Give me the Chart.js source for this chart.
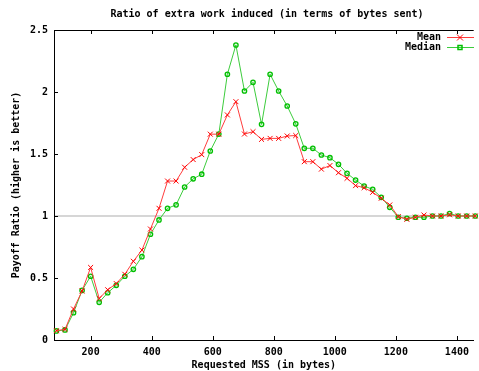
<!DOCTYPE html>
<html>
<head>
<meta charset="utf-8">
<script src="https://cdn.jsdelivr.net/npm/chart.js@4.4.1/dist/chart.umd.min.js"></script>
<style>
  html, body { margin: 0; padding: 0; background: #fff; }
  #caja { width: 479px; height: 371px; }
</style>
</head>
<body>
<div id="caja"><canvas id="ratio"></canvas></div>
<script>
// requested MSS (bytes)
const mss = [88, 116, 144, 172, 200, 228, 256, 284, 312, 340,
             368, 396, 424, 452, 480, 508, 536, 564, 592, 620,
             648, 676, 704, 732, 760, 788, 816, 844, 872, 900,
             928, 956, 984, 1012, 1040, 1068, 1096, 1124, 1152, 1180,
             1208, 1236, 1264, 1292, 1320, 1348, 1376, 1404, 1432, 1460];

const mean = [0.075, 0.086, 0.25, 0.395, 0.585, 0.335, 0.405, 0.455, 0.53, 0.635,
              0.725, 0.895, 1.062, 1.282, 1.282, 1.393, 1.455, 1.495, 1.66, 1.66,
              1.815, 1.922, 1.661, 1.68, 1.618, 1.626, 1.626, 1.645, 1.649, 1.438,
              1.438, 1.378, 1.407, 1.349, 1.304, 1.245, 1.228, 1.191, 1.143, 1.089,
              0.995, 0.973, 0.99, 1.008, 1.0, 1.0, 1.01, 1.0, 1.0, 1.0];

const median = [0.073, 0.081, 0.22, 0.40, 0.514, 0.304, 0.381, 0.441, 0.514, 0.57,
                0.672, 0.853, 0.968, 1.062, 1.09, 1.234, 1.30, 1.337, 1.524, 1.661,
                2.143, 2.379, 2.008, 2.078, 1.739, 2.143, 2.008, 1.887, 1.743, 1.546,
                1.546, 1.492, 1.47, 1.417, 1.344, 1.29, 1.242, 1.215, 1.151, 1.07,
                0.99, 0.982, 0.99, 0.99, 1.0, 1.0, 1.02, 1.0, 1.0, 1.0];

const xTicks = [200, 400, 600, 800, 1000, 1200, 1400];
const yTicks = [0, 0.5, 1, 1.5, 2, 2.5];

const titulo = 'Ratio of extra work induced (in terms of bytes sent)';
const rojo = '#ff0000';
const rojoLinea = '#ff3c3c';
const verde = '#00c000';
const verdeLinea = '#3ccc3c';
const fuente = { family: 'DejaVu Sans Mono', size: 10, weight: 'bold', lineHeight: 1.2 };

// titulo, tics hacia dentro, borde superior y leyenda al estilo gnuplot
const estiloGnuplot = {
    id: 'estiloGnuplot',
    afterDraw(chart) {
        const c = chart.ctx;
        const a = chart.chartArea;
        const sx = chart.scales.x;
        const sy = chart.scales.y;
        c.save();
        c.font = 'bold 10px "DejaVu Sans Mono"';
        c.fillStyle = '#000';
        c.textAlign = 'center';
        c.textBaseline = 'middle';
        c.fillText(titulo, (a.left + 480) / 2, 14);

        c.strokeStyle = '#000';
        c.lineWidth = 1;
        c.beginPath();
        c.moveTo(a.left, a.top + 0.5);
        c.lineTo(a.right, a.top + 0.5);
        xTicks.forEach(v => {
            const px = Math.round(sx.getPixelForValue(v)) + 0.5;
            c.moveTo(px, a.bottom);
            c.lineTo(px, a.bottom - 4);
            c.moveTo(px, a.top);
            c.lineTo(px, a.top + 4);
        });
        yTicks.forEach(v => {
            const py = Math.round(sy.getPixelForValue(v)) + 0.5;
            c.moveTo(a.left, py);
            c.lineTo(a.left + 4, py);
        });
        c.stroke();

        // leyenda
        c.textAlign = 'right';
        chart.data.datasets.forEach((ds, i) => {
            const ly = 37 + i * 10;
            c.fillStyle = '#000';
            c.fillText(ds.label, 441, ly);
            c.strokeStyle = ds.borderColor;
            c.lineWidth = 1;
            c.beginPath();
            c.moveTo(447, ly + 0.5);
            c.lineTo(474, ly + 0.5);
            c.stroke();
            c.strokeStyle = ds.pointBorderColor;
            if (i === 0) {
                c.beginPath();
                c.moveTo(457, ly - 2.5); c.lineTo(463, ly + 3.5);
                c.moveTo(457, ly + 3.5); c.lineTo(463, ly - 2.5);
                c.stroke();
            } else {
                c.lineWidth = 1.5;
                c.strokeRect(458, ly - 1.5, 4, 4);
            }
        });
        c.restore();
    }
};

function grafico() {
    const ctx = document.getElementById('ratio');
    new Chart(ctx, {
        type: 'line',
        data: {
            datasets: [{
                label: 'Mean',
                data: mss.map((x, i) => ({ x: x, y: mean[i] })),
                borderColor: rojoLinea,
                backgroundColor: rojo,
                pointBorderColor: rojo,
                borderWidth: 1,
                pointStyle: 'crossRot',
                pointRadius: 3.5,
                pointBorderWidth: 1,
                tension: 0
            }, {
                label: 'Median',
                data: mss.map((x, i) => ({ x: x, y: median[i] })),
                borderColor: verdeLinea,
                backgroundColor: 'rgba(0,192,0,0.12)',
                pointBorderColor: verde,
                borderWidth: 1,
                pointStyle: 'circle',
                pointRadius: 2.2,
                pointBorderWidth: 1.3,
                tension: 0
            }]
        },
        options: {
            responsive: true,
            maintainAspectRatio: false,
            animation: false,
            clip: false,
            layout: { padding: { top: 30, left: 0, right: 0, bottom: 0 } },
            plugins: {
                legend: { display: false },
                tooltip: { enabled: false },
                title: { display: false }
            },
            scales: {
                x: {
                    type: 'linear',
                    min: 80,
                    max: 1455,
                    afterFit: s => { s.height = 31; },
                    afterBuildTicks: s => { s.ticks = xTicks.map(v => ({ value: v })); },
                    ticks: {
                        color: '#000', font: fuente, padding: 6,
                        callback: v => String(v)
                    },
                    grid: { display: false, drawTicks: false },
                    border: { display: true, color: '#000', width: 1 },
                    title: {
                        display: true,
                        text: 'Requested MSS (in bytes)',
                        color: '#000',
                        font: fuente,
                        padding: 0
                    }
                },
                y: {
                    min: 0,
                    max: 2.5,
                    afterFit: s => { s.width = 54; },
                    afterBuildTicks: s => { s.ticks = yTicks.map(v => ({ value: v })); },
                    ticks: {
                        color: '#000', font: fuente, padding: 6,
                        callback: v => String(v)
                    },
                    grid: {
                        drawTicks: false,
                        lineWidth: 2,
                        color: c => (c.tick && c.tick.value === 1 ? '#d6d6d6' : 'rgba(0,0,0,0)')
                    },
                    border: { display: true, color: '#000', width: 1 },
                    title: {
                        display: true,
                        text: 'Payoff Ratio (higher is better)',
                        color: '#000',
                        font: fuente,
                        padding: { top: 10, bottom: 0 }
                    }
                }
            }
        },
        plugins: [estiloGnuplot]
    });
}

grafico();
</script>
</body>
</html>
